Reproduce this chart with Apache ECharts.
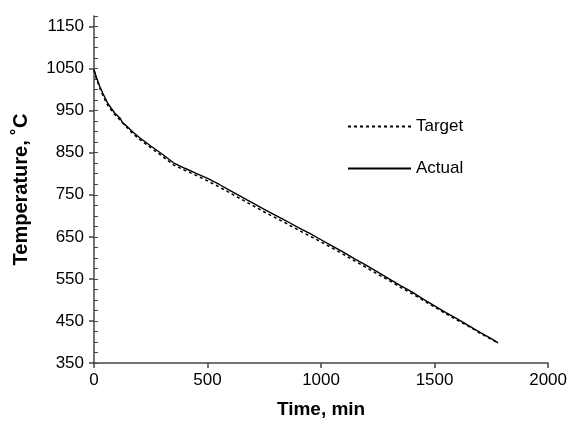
<!DOCTYPE html>
<html><head><meta charset="utf-8">
<script src="https://cdn.jsdelivr.net/npm/echarts@6/dist/echarts.min.js"></script>
<style>html,body{margin:0;padding:0;background:#fff}#c{width:570px;height:424px}</style>
</head><body><div id="c"></div>
<script>
var timeMin = [0,10,25,40,60,90,115,125,130,140,170,200,250,300,350,400,450,500,550,600,650,700,750,800,850,900,950,1000,1050,1100,1150,1200,1250,1300,1350,1400,1450,1500,1550,1600,1650,1700,1750,1780];
var actual  = [1048,1030,1008,990,968,945,932,922,926,915,900,886,866,847,826,813,801,789,775,760,745,730,715,701,687,672,658,643,628,613,597,582,566,550,534,519,502,486,470,455,439,423,408,398];
var target  = [1046,1027,1004,985,963,941,928,922,919,913,896,882,862,842,821,808,796,783,769,754,739,724,709,695,681,666,652,638,623,608,592,577,561,546,530,515,499,483,467,452,437,421,406,398];
var xTicks = {min:0, max:2000, step:500};
var yTicks = {min:350, max:1175, step:100, minorStep:25};

function pairs(xs, ys){ return xs.map(function(x,i){return [x, ys[i]];}); }
function plain(v){ return String(v); }

var font = '"Liberation Sans", Arial, sans-serif';
var chart = echarts.init(document.getElementById('c'), null, {renderer:'canvas'});
chart.setOption({
  animation:false,
  backgroundColor:'#fff',
  grid:{left:94, right:21, top:16, bottom:55, containLabel:false},
  legend:{
    orient:'vertical', left:342, top:113, itemWidth:63, itemHeight:14, itemGap:25,
    itemStyle:{opacity:0},
    textStyle:{fontFamily:font, fontSize:17, color:'#000', padding:[0,0,0,0]},
    data:['Target','Actual']
  },
  xAxis:{
    type:'value', min:xTicks.min, max:xTicks.max, interval:xTicks.step,
    name:'Time, min', nameLocation:'middle', nameGap:37,
    nameTextStyle:{fontFamily:font, fontSize:19, fontWeight:'bold', color:'#000'},
    axisLine:{lineStyle:{color:'#444', width:1.5}},
    axisTick:{show:true, length:5, lineStyle:{color:'#444', width:1.5}},
    axisLabel:{fontFamily:font, fontSize:17, color:'#000', margin:9, formatter:plain},
    splitLine:{show:false}
  },
  yAxis:[{
    type:'value', min:yTicks.min, max:yTicks.max, interval:yTicks.step,
    name:'Temperature, ˚C', nameLocation:'middle', nameGap:63, nameRotate:90,
    nameTextStyle:{fontFamily:font, fontSize:20, fontWeight:'bold', color:'#000'},
    axisLine:{show:true, lineStyle:{color:'#444', width:1.5}},
    axisTick:{show:true, length:5, lineStyle:{color:'#444', width:1.5}},
    axisLabel:{fontFamily:font, fontSize:17, color:'#000', margin:10, showMaxLabel:false, formatter:plain},
    splitLine:{show:false}
  },{
    type:'value', min:yTicks.min, max:yTicks.max, interval:yTicks.minorStep, position:'left',
    axisLine:{show:false},
    axisTick:{show:true, inside:true, length:4, lineStyle:{color:'#444', width:1}},
    axisLabel:{show:false},
    splitLine:{show:false}
  }],
  series:[{
    name:'Target', type:'line', yAxisIndex:0, symbol:'none', smooth:false,
    data:pairs(timeMin, target),
    lineStyle:{color:'#000', width:1.5, type:[3,3]}, itemStyle:{color:'#000'}
  },{
    name:'Actual', type:'line', yAxisIndex:0, symbol:'none', smooth:false,
    data:pairs(timeMin, actual),
    lineStyle:{color:'#000', width:1.4, type:'solid'}, itemStyle:{color:'#000'}
  }]
});
</script></body></html>
